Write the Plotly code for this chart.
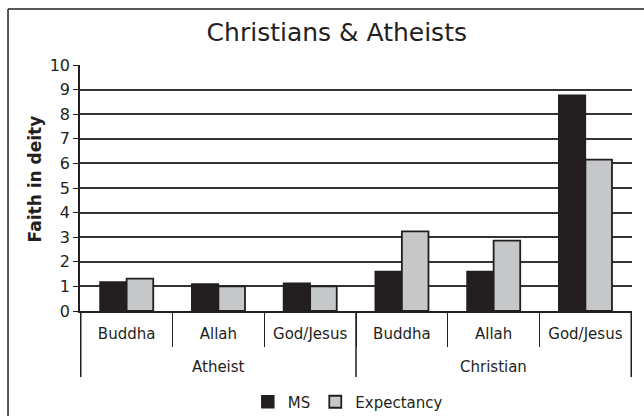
import plotly.graph_objects as go

# Data
groups = ["Atheist", "Christian"]
deities = ["Buddha", "Allah", "God/Jesus"]
ms_values = [1.18, 1.10, 1.13, 1.61, 1.61, 8.77]
expectancy_values = [1.32, 1.00, 1.00, 3.24, 2.86, 6.15]

DARK = "#231f20"
FONT = "DejaVu Sans"

# one category key per (group, deity) pair, labelled by deity only
keys = [f"{g}|{d}" for g in groups for d in deities]
tick_text = [d for g in groups for d in deities]

fig = go.Figure()
fig.add_trace(go.Bar(
    name="MS", x=keys, y=ms_values,
    marker=dict(color=DARK, line=dict(color=DARK, width=1.5)),
))
fig.add_trace(go.Bar(
    name="Expectancy", x=keys, y=expectancy_values,
    marker=dict(color="#c6c7c8", line=dict(color=DARK, width=1.8)),
))

# group labels under the deity labels
n = len(deities)
for i, g in enumerate(groups):
    fig.add_annotation(x=i * n + (n - 1) / 2, xref="x", y=-0.2276, yref="paper",
                       text=g, showarrow=False, yanchor="middle",
                       font=dict(size=15, family=FONT, color=DARK))

# long dividers at group edges
for i in range(len(groups) + 1):
    fig.add_shape(type="line", xref="x", yref="paper",
                  x0=i * n - 0.5, x1=i * n - 0.5, y0=0, y1=-0.268,
                  line=dict(color=DARK, width=1.5))

# y-axis title
fig.add_annotation(x=-0.0815, xref="paper", y=0.535, yref="paper",
                   text="<b>Faith in deity</b>", textangle=-90, showarrow=False,
                   xanchor="center", yanchor="middle",
                   font=dict(size=17, family=FONT, color=DARK))

# outer frame (left and top edges)
fig.add_shape(type="line", xref="paper", yref="paper",
              x0=-0.1304, x1=-0.1304, y0=1.2276, y1=-0.45,
              line=dict(color=DARK, width=1.5))
fig.add_shape(type="line", xref="paper", yref="paper",
              x0=-0.1304, x1=1.03, y0=1.2276, y1=1.2276,
              line=dict(color=DARK, width=1.5))

fig.update_layout(
    width=644, height=416,
    margin=dict(l=80, r=12, t=65, b=105, autoexpand=False),
    paper_bgcolor="white", plot_bgcolor="white",
    font=dict(family=FONT, color=DARK),
    barmode="group", bargap=0.42, bargroupgap=0,
    title=dict(text="Christians & Atheists", x=0.523, xanchor="center",
               y=0.923, yanchor="middle",
               font=dict(size=25, family=FONT, color=DARK)),
    legend=dict(orientation="h", x=0.304, xanchor="left", y=-0.37,
                yanchor="middle", font=dict(size=15, family=FONT, color=DARK),
                itemwidth=30),
    showlegend=True,
)
fig.update_yaxes(
    range=[0, 10], dtick=1, showgrid=True, gridcolor="#333333", gridwidth=1.5,
    showline=True, linecolor=DARK, linewidth=1.5,
    ticks="outside", ticklen=5, tickcolor=DARK,
    tickfont=dict(size=16, family=FONT, color=DARK),
    zeroline=False, automargin=False,
)
fig.update_xaxes(
    type="category", categoryorder="array", categoryarray=keys,
    tickmode="array", tickvals=keys, ticktext=tick_text,
    showline=True, linecolor=DARK, linewidth=1.5,
    ticks="outside", tickson="boundaries", ticklen=34, tickcolor=DARK, tickwidth=1.2,
    ticklabelstandoff=8,
    tickfont=dict(size=15, family=FONT, color=DARK),
    automargin=False,
)

fig.write_html("out.html")
